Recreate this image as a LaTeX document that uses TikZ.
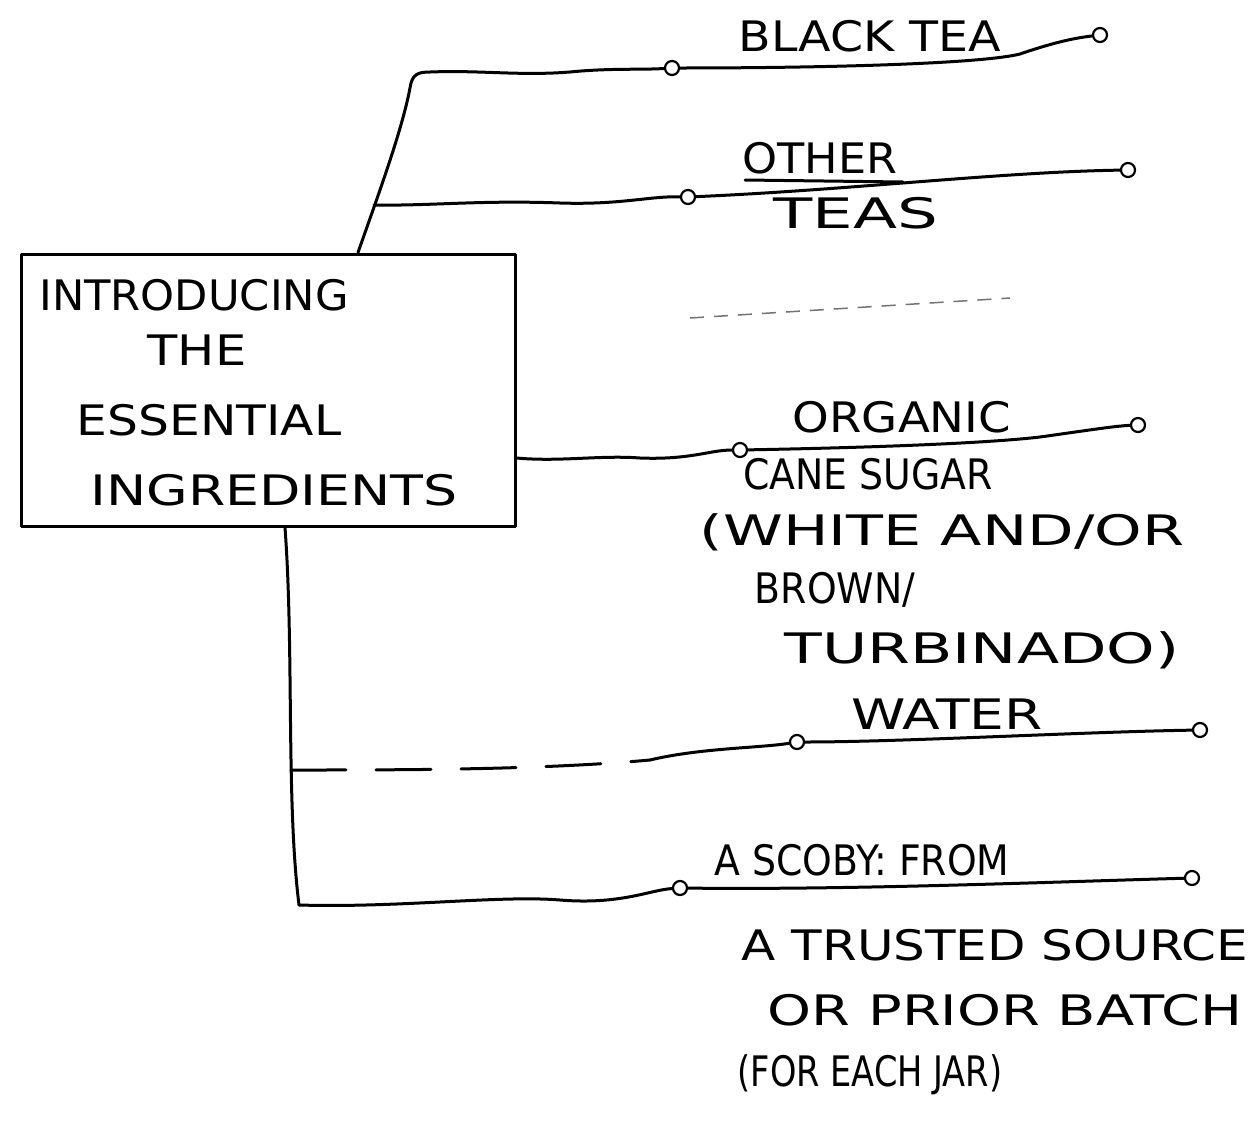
\documentclass[tikz,border=0pt]{standalone}
\usepackage{fontspec}
\setmainfont{DejaVu Sans}
\newcommand{\hsq}[2]{\scalebox{#1}[1]{#2}}
\begin{document}
\begin{tikzpicture}[x=1pt,y=-1pt,
  ink/.style={line width=3pt, line cap=round, line join=round},
  dot/.style={circle, draw, line width=2.2pt, inner sep=0pt, minimum size=14pt, fill=white},
  lbl/.style={font=\fontsize{42}{48}\selectfont, inner sep=0pt},
  faint/.style={black!55, dash pattern=on 14pt off 10pt, line width=1.5pt}]
\useasboundingbox[fill=white] (0,0) rectangle (1258,1130);

% central box
\node[draw, ink, minimum width=494pt, minimum height=272pt, inner sep=0pt] (box) at (268,390) {};
\node[lbl] (t1) at (194,295) {\hsq{1.03}{INTRODUCING}};
\node[lbl] (t2) at (197,350) {\hsq{1.18}{THE}};
\node[lbl] (t3) at (209,420) {\hsq{1.16}{ESSENTIAL}};
\node[lbl] (t4) at (274,490) {\hsq{1.28}{INGREDIENTS}};

% trunk junctions
\coordinate (jo) at (374,205);
\coordinate (jw) at (291,770);
\coordinate (jb) at (299,905);

% end circles
\node[dot] (b1) at (672,68) {};
\node[dot] (b2) at (1100,35) {};
\node[dot] (o1) at (688,197) {};
\node[dot] (o2) at (1128,170) {};
\node[dot] (g1) at (740,450) {};
\node[dot] (g2) at (1138,425) {};
\node[dot] (w1) at (797,742) {};
\node[dot] (w2) at (1200,730) {};
\node[dot] (s1) at (680,888) {};
\node[dot] (s2) at (1192,878) {};

% upper trunk and BLACK TEA branch
\draw[ink] ([xshift=90pt]box.north) .. controls (380,190) and (402,130) .. (410,88)
  .. controls (412,74) and (418,72) .. (430,72)
  .. controls (480,70) and (520,76) .. (570,72)
  .. controls (610,68) and (640,70) .. (b1);
\draw[ink] (b1) .. controls (820,68) and (980,64) .. (1020,54)
  .. controls (1055,42) and (1075,38) .. (b2);

% OTHER TEAS branch
\draw[ink] (jo) .. controls (430,206) and (480,200) .. (560,203)
  .. controls (620,205) and (650,196) .. (o1);
\draw[ink] (o1) .. controls (850,190) and (1000,172) .. (o2);
\draw[ink] (745,180) -- (903,182);

% ORGANIC branch
\draw[ink] ([yshift=-68pt]box.east) .. controls (560,462) and (600,455) .. (640,458)
  .. controls (690,460) and (710,450) .. (g1);
\draw[ink] (g1) .. controls (850,448) and (980,444) .. (1040,437)
  .. controls (1090,430) and (1115,426) .. (g2);

% lower trunk
\draw[ink] ([xshift=17pt]box.south) .. controls (294,650) and (286,800) .. (jb);

% WATER branch
\draw[ink, dash pattern=on 55pt off 30pt] (jw) .. controls (400,770) and (540,770) .. (650,760);
\draw[ink] (650,760) .. controls (700,748) and (760,748) .. (w1);
\draw[ink] (w1) .. controls (900,742) and (1080,732) .. (w2);

% SCOBY branch
\draw[ink] (jb) .. controls (400,908) and (500,895) .. (560,900)
  .. controls (620,905) and (650,890) .. (s1);
\draw[ink] (s1) .. controls (850,890) and (1050,882) .. (s2);

% faint dashed stroke
\coordinate (fa) at (690,318);
\coordinate (fb) at (1010,298);
\draw[faint] (fa) -- (fb);

% labels
\node[lbl] (lb) at (870,36) {\hsq{1.13}{BLACK TEA}};
\node[lbl] (lo1) at (820,158) {\hsq{1.06}{OTHER}};
\node[lbl] (lo2) at (856,213) {\hsq{1.53}{TEAS}};
\node[lbl] (lg1) at (902,417) {\hsq{1.11}{ORGANIC}};
\node[lbl] (lg2) at (868,474) {\hsq{0.9}{CANE SUGAR}};
\node[lbl] (lg3) at (942,532) {\hsq{1.44}{(WHITE AND/OR}};
\node[lbl] (lg4) at (835,590) {\hsq{0.9}{BROWN/}};
\node[lbl] (lg5) at (982,650) {\hsq{1.47}{TURBINADO)}};
\node[lbl] (lw) at (947,714) {\hsq{1.31}{WATER}};
\node[lbl] (ls1) at (862,860) {\hsq{0.9}{A SCOBY: FROM}};
\node[lbl] (ls2) at (995,945) {\hsq{1.19}{A TRUSTED SOURCE}};
\node[lbl] (ls3) at (1005,1010) {\hsq{1.33}{OR PRIOR BATCH}};
\node[lbl] (ls4) at (870,1075) {\hsq{0.8}{(FOR EACH JAR)}};
\end{tikzpicture}
\end{document}
